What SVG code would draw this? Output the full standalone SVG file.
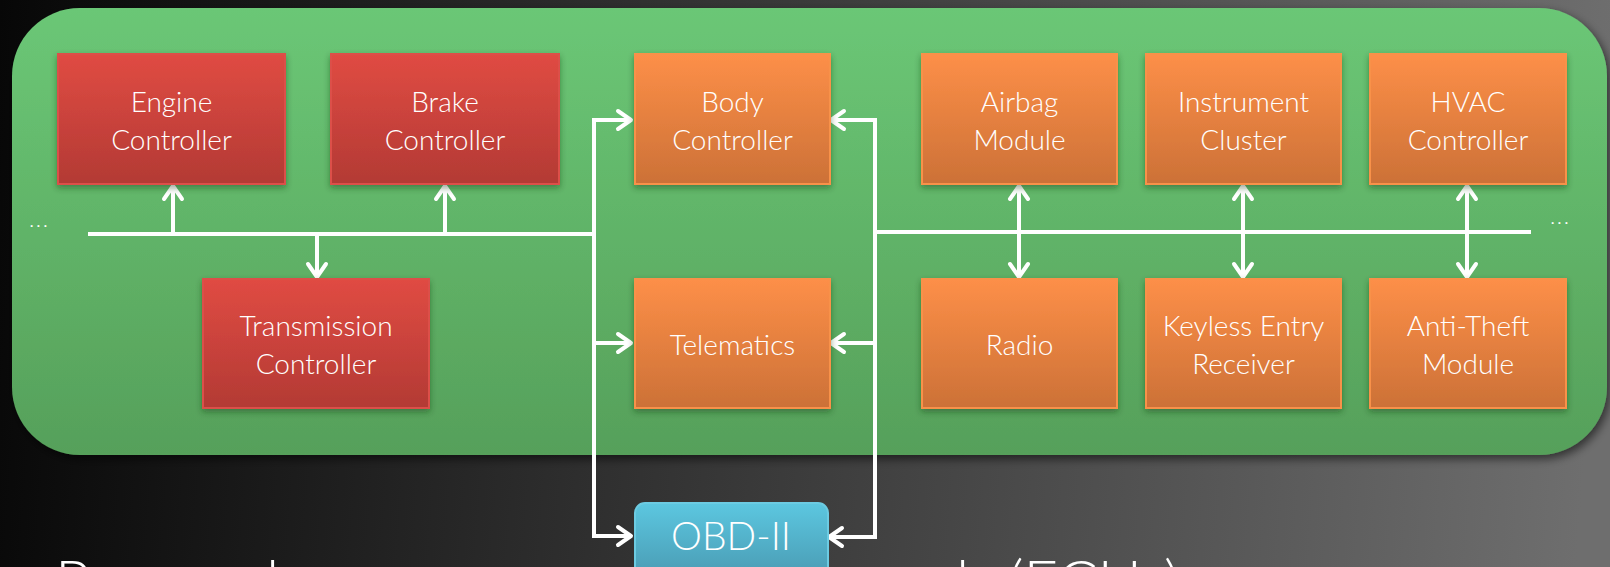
<svg xmlns="http://www.w3.org/2000/svg" width="1610" height="567" viewBox="0 0 1610 567">
<defs>
<linearGradient id="bg" x1="0" y1="0" x2="1610" y2="120" gradientUnits="userSpaceOnUse">
<stop offset="0" stop-color="#070707"/>
<stop offset="1" stop-color="#6e6e6e"/>
</linearGradient>
<linearGradient id="panelG" x1="0" y1="0" x2="0" y2="1">
<stop offset="0" stop-color="#6bc776"/>
<stop offset="1" stop-color="#56a05a"/>
</linearGradient>
<linearGradient id="redG" x1="0" y1="0" x2="0" y2="1">
<stop offset="0" stop-color="#e04b43"/>
<stop offset="1" stop-color="#b33a34"/>
</linearGradient>
<linearGradient id="orgG" x1="0" y1="0" x2="0" y2="1">
<stop offset="0" stop-color="#fd8f48"/>
<stop offset="1" stop-color="#cc7137"/>
</linearGradient>
<linearGradient id="bluG" x1="0" y1="0" x2="0" y2="1">
<stop offset="0" stop-color="#5cc7e0"/>
<stop offset="1" stop-color="#4898b0"/>
</linearGradient>
<filter id="panelSh" x="-5%" y="-10%" width="110%" height="125%">
<feDropShadow dx="3" dy="4" stdDeviation="5" flood-color="#000" flood-opacity="0.55"/>
</filter>
<filter id="boxSh" x="-10%" y="-10%" width="120%" height="130%">
<feDropShadow dx="0" dy="3" stdDeviation="3" flood-color="#1c3a1c" flood-opacity="0.45"/>
</filter>
<marker id="ah" viewBox="-16 -12 20 24" markerWidth="20" markerHeight="24" refX="0" refY="0" orient="auto-start-reverse" markerUnits="userSpaceOnUse">
<path d="M-13,-9 L0,0 L-13,9" fill="none" stroke="#ffffff" stroke-width="4" stroke-linecap="round" stroke-linejoin="round"/>
</marker>
</defs>
<style>
.lbl{font-family:Lato,"Noto Sans","Liberation Sans",sans-serif;font-weight:300;font-size:28px;fill:#ffffff;text-anchor:middle}
.obd{font-family:Lato,"Noto Sans","Liberation Sans",sans-serif;font-weight:300;font-size:39px;fill:#ffffff;text-anchor:middle}
.dots{font-family:Lato,"Noto Sans","Liberation Sans",sans-serif;font-size:16px;fill:#ffffff;letter-spacing:3px;text-anchor:middle}
.title{font-family:Lato,"Noto Sans","Liberation Sans",sans-serif;font-weight:300;font-size:60px;fill:#ffffff}
.red{fill:url(#redG);stroke:#dc5048;stroke-width:2;filter:url(#boxSh)}
.org{fill:url(#orgG);stroke:#f8914a;stroke-width:2;filter:url(#boxSh)}
.blu{fill:url(#bluG);stroke:#6ccbe2;stroke-width:2}
.wire{fill:none;stroke:#ffffff;stroke-width:4}
.arr{fill:none;stroke:#ffffff;stroke-width:4;marker-end:url(#ah)}
.bi{fill:none;stroke:#ffffff;stroke-width:4;marker-start:url(#ah);marker-end:url(#ah)}
</style>
<rect x="0" y="0" width="1610" height="567" fill="url(#bg)"/>
<text class="title" y="603"><tspan x="55">P</tspan><tspan x="266">l</tspan><tspan x="956">l</tspan><tspan x="1008">(ECUs)</tspan></text>
<rect id="panel" x="12" y="8" width="1595" height="447" rx="68" ry="68" fill="url(#panelG)" filter="url(#panelSh)"/>
<text class="dots" x="40" y="227">...</text>
<text class="dots" x="1561" y="224">...</text>
<g id="connectors">
<path class="wire" d="M88,234 H596"/>
<path class="wire" d="M594,118 V538"/>
<path class="arr" d="M592,120 H631"/>
<path class="arr" d="M594,343 H631"/>
<path class="arr" d="M592,536 H631"/>
<path class="arr" d="M173,236 V186"/>
<path class="arr" d="M445,236 V186"/>
<path class="arr" d="M317,232 V277"/>
<path class="wire" d="M873,232 H1531"/>
<path class="wire" d="M875,118 V539"/>
<path class="arr" d="M877,120 H831"/>
<path class="arr" d="M875,343 H831"/>
<path class="arr" d="M877,537 H829"/>
<path class="bi" d="M1019,186 V277"/>
<path class="bi" d="M1243,186 V277"/>
<path class="bi" d="M1467,186 V277"/>
</g>
<g id="engine"><rect class="red" x="58" y="54" width="227" height="130"/><text class="lbl" x="171.5" y="112">Engine</text><text class="lbl" x="171.5" y="150">Controller</text></g>
<g id="brake"><rect class="red" x="331" y="54" width="228" height="130"/><text class="lbl" x="445" y="112">Brake</text><text class="lbl" x="445" y="150">Controller</text></g>
<g id="transmission"><rect class="red" x="203" y="279" width="226" height="129"/><text class="lbl" x="316" y="336">Transmission</text><text class="lbl" x="316" y="374">Controller</text></g>
<g id="body"><rect class="org" x="635" y="54" width="195" height="130"/><text class="lbl" x="732.5" y="112">Body</text><text class="lbl" x="732.5" y="150">Controller</text></g>
<g id="telematics"><rect class="org" x="635" y="279" width="195" height="129"/><text class="lbl" x="732.5" y="355">Telematics</text></g>
<g id="airbag"><rect class="org" x="922" y="54" width="195" height="130"/><text class="lbl" x="1019.5" y="112">Airbag</text><text class="lbl" x="1019.5" y="150">Module</text></g>
<g id="instrument"><rect class="org" x="1146" y="54" width="195" height="130"/><text class="lbl" x="1243.5" y="112">Instrument</text><text class="lbl" x="1243.5" y="150">Cluster</text></g>
<g id="hvac"><rect class="org" x="1370" y="54" width="196" height="130"/><text class="lbl" x="1468" y="112">HVAC</text><text class="lbl" x="1468" y="150">Controller</text></g>
<g id="radio"><rect class="org" x="922" y="279" width="195" height="129"/><text class="lbl" x="1019.5" y="355">Radio</text></g>
<g id="keyless"><rect class="org" x="1146" y="279" width="195" height="129"/><text class="lbl" x="1243.5" y="336">Keyless Entry</text><text class="lbl" x="1243.5" y="374">Receiver</text></g>
<g id="antitheft"><rect class="org" x="1370" y="279" width="196" height="129"/><text class="lbl" x="1468" y="336">Anti-Theft</text><text class="lbl" x="1468" y="374">Module</text></g>
<g id="obd"><rect class="blu" x="635" y="503" width="193" height="80" rx="10" ry="10"/><text class="obd" x="731" y="550">OBD-II</text></g>
</svg>
